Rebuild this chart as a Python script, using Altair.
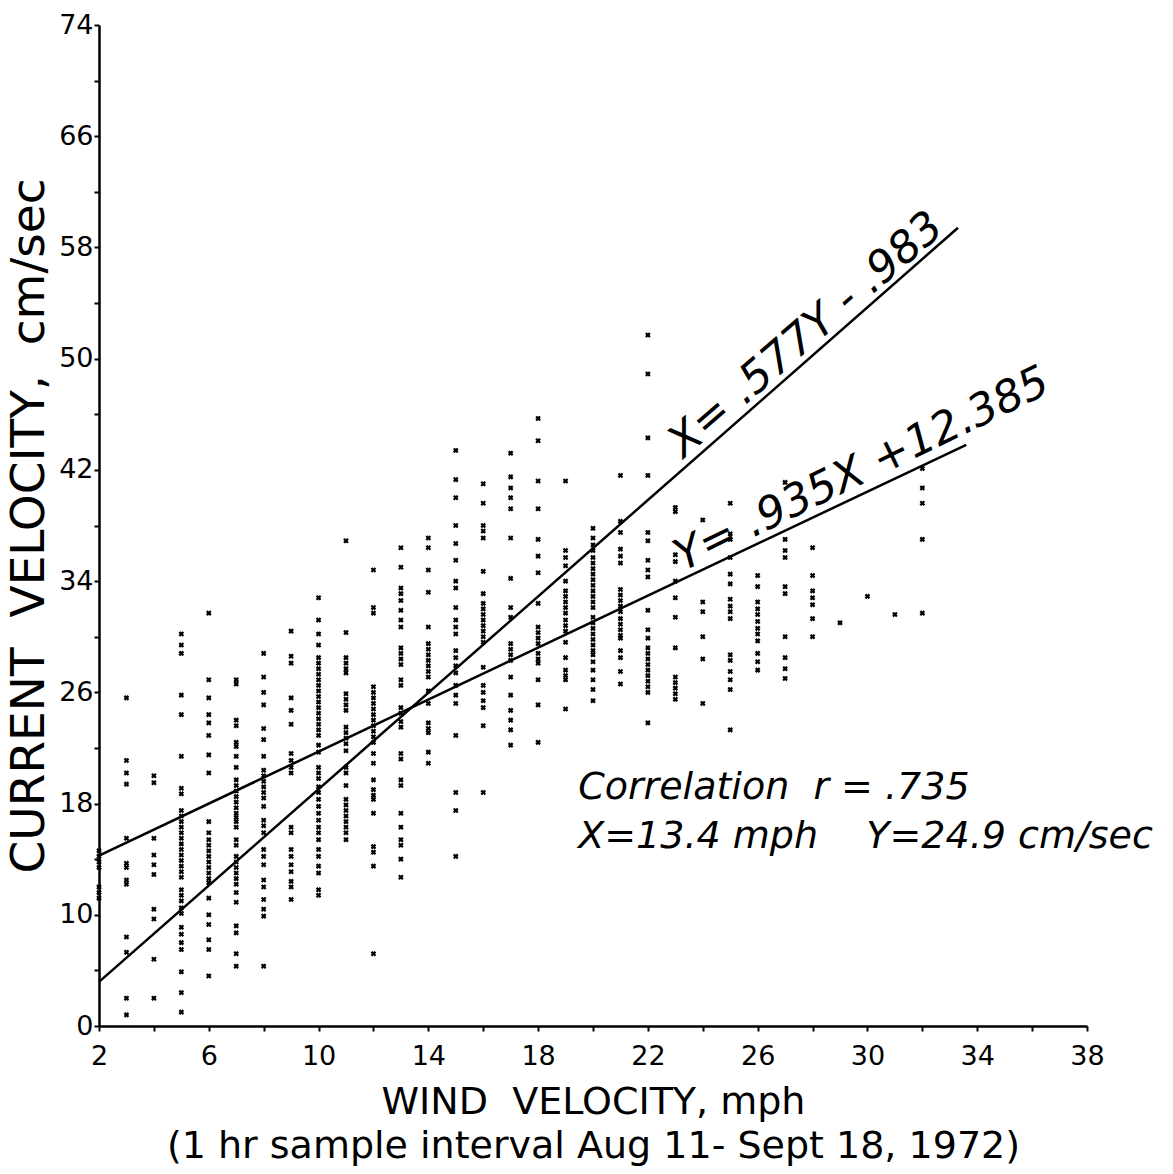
import altair as alt
import pandas as pd

# Axis tick positions (wind in mph, current in cm/sec)
wind_ticks = list(range(2, 39, 2))
current_ticks = list(range(2, 75, 4))

# Hourly current speeds observed at each whole-mph wind speed
cur_02 = [11.2, 11.6, 12.0, 13.4, 13.8, 14.2, 14.6]
cur_03 = [25.6, 21.1, 20.2, 19.4, 15.5, 13.7, 13.4, 12.5, 12.2, 8.4, 7.3, 4.0, 2.8]
cur_04 = [20.0, 19.5, 15.5, 14.3, 13.6, 12.9, 10.4, 9.7, 6.8, 4.0]
cur_05 = [30.2, 29.4, 28.8, 25.8, 24.4, 21.4, 19.1, 18.7, 17.5, 17.1, 16.7, 16.3, 15.9,
          15.5, 15.1, 14.7, 14.3, 13.9, 13.5, 13.1, 12.7, 11.8, 11.4, 11.0, 10.5, 10.1,
          9.1, 8.6, 8.0, 7.5, 5.9, 4.4, 3.0]
cur_06 = [31.7, 26.9, 25.6, 24.4, 23.8, 22.9, 21.5, 20.2, 16.7, 15.9, 15.4, 15.0, 14.6,
          14.2, 13.8, 13.4, 13.0, 12.6, 12.3, 11.2, 10.0, 9.3, 8.2, 7.5, 5.6]
cur_07 = [26.9, 26.6, 24.0, 23.6, 22.4, 22.1, 21.4, 20.6, 19.7, 19.3, 18.9, 18.5, 18.1,
          17.7, 17.3, 17.0, 16.7, 16.3, 15.4, 15.0, 14.2, 13.8, 13.4, 13.0, 12.6, 12.2,
          11.6, 10.9, 9.2, 8.7, 7.2, 6.3]
cur_08 = [28.8, 27.1, 26.0, 25.1, 23.4, 22.6, 21.4, 20.4, 20.0, 19.6, 19.2, 18.8, 18.4,
          17.8, 16.8, 16.4, 15.9, 14.7, 14.2, 13.6, 12.5, 12.0, 11.1, 10.4, 9.9, 6.3]
cur_09 = [30.4, 28.6, 28.1, 25.6, 24.7, 23.7, 21.6, 21.1, 20.6, 20.2, 16.3, 15.9, 14.7,
          14.2, 13.6, 13.1, 12.4, 12.0, 11.1]
cur_10 = [32.8, 31.2, 30.2, 29.4, 28.5, 28.1, 27.7, 27.3, 26.9, 26.5, 26.1, 25.7, 25.3,
          24.9, 24.5, 24.1, 23.7, 23.3, 22.9, 22.2, 21.7, 20.6, 20.2, 19.8, 19.2, 18.8,
          18.3, 17.8, 17.3, 16.8, 16.3, 15.9, 15.4, 14.7, 14.2, 13.5, 13.0, 11.8, 11.4]
cur_11 = [36.9, 30.3, 28.5, 28.1, 27.7, 27.4, 25.9, 25.5, 25.1, 24.7, 23.5, 23.1, 22.7,
          22.3, 21.8, 20.6, 20.2, 19.3, 18.3, 17.9, 17.5, 17.1, 16.7, 16.3, 15.9, 15.4]
cur_12 = [34.8, 32.1, 31.7, 26.4, 26.0, 25.6, 25.2, 24.8, 24.4, 24.0, 23.6, 23.2, 22.8,
          22.4, 21.6, 20.9, 19.7, 19.0, 18.6, 18.3, 17.3, 14.9, 14.5, 13.5, 7.2]
cur_13 = [36.4, 35.0, 33.5, 33.1, 32.6, 31.9, 31.2, 30.7, 29.2, 28.8, 28.4, 28.0, 26.9,
          26.5, 24.9, 24.5, 23.9, 23.5, 21.6, 21.2, 19.7, 19.3, 17.3, 16.3, 15.4, 15.0,
          14.0, 12.7]
cur_14 = [37.1, 36.4, 34.8, 33.2, 30.7, 29.5, 29.1, 28.7, 28.3, 27.9, 27.5, 27.1, 26.1,
          25.2, 23.8, 23.4, 23.1, 21.7, 20.9]
cur_15 = [43.4, 41.3, 40.0, 38.0, 36.7, 35.5, 34.0, 33.5, 32.1, 31.2, 30.7, 30.2, 29.0,
          28.5, 27.9, 27.4, 26.5, 25.8, 25.2, 22.9, 18.8, 17.5, 14.2]
cur_16 = [41.0, 39.6, 38.0, 37.6, 37.1, 34.7, 33.1, 32.4, 32.0, 31.6, 31.2, 30.8, 30.4,
          30.0, 29.6, 27.8, 26.5, 26.0, 25.4, 24.9, 23.6, 18.8]
cur_17 = [43.2, 41.5, 40.7, 40.0, 39.2, 37.1, 34.2, 32.1, 31.4, 29.5, 29.1, 28.7, 28.3,
          27.1, 25.8, 24.7, 24.0, 23.3, 22.2]
cur_18 = [45.7, 44.1, 41.2, 39.2, 37.0, 35.8, 34.6, 32.4, 30.7, 30.3, 29.9, 29.5, 28.8,
          28.4, 28.1, 26.9, 25.1, 22.4]
cur_19 = [41.2, 36.2, 35.7, 35.1, 34.0, 33.3, 32.9, 32.5, 32.1, 31.7, 31.2, 30.8, 30.4,
          29.6, 28.5, 27.6, 27.2, 26.9, 24.8]
cur_20 = [37.8, 37.1, 36.6, 36.2, 35.7, 35.3, 34.9, 34.5, 34.1, 33.7, 33.3, 32.9, 32.5,
          32.1, 31.4, 31.0, 30.6, 30.2, 29.8, 29.4, 29.0, 28.7, 28.2, 27.6, 26.9, 26.2, 25.4]
cur_21 = [41.6, 38.3, 37.5, 36.3, 35.8, 35.3, 33.4, 33.0, 32.6, 32.2, 31.8, 31.3, 30.9,
          30.5, 30.1, 29.9, 29.0, 28.5, 27.5, 26.6]
cur_22 = [51.7, 48.9, 44.3, 41.6, 37.5, 36.9, 35.5, 34.8, 34.3, 31.9, 30.5, 29.9, 29.2,
          28.8, 28.4, 28.0, 27.6, 27.2, 26.8, 26.4, 26.0, 23.8]
cur_23 = [39.3, 39.0, 35.9, 35.4, 34.0, 32.8, 31.4, 29.2, 27.1, 26.7, 26.3, 25.9, 25.5]
cur_24 = [38.4, 32.5, 31.8, 30.0, 28.4, 25.2]
cur_25 = [39.6, 37.4, 37.0, 35.7, 34.5, 33.8, 32.7, 32.2, 31.8, 31.3, 28.7, 28.3, 27.5,
          26.9, 26.2, 23.3]
cur_26 = [34.4, 33.6, 32.5, 32.0, 31.6, 31.1, 30.6, 30.2, 29.7, 28.8, 28.2, 27.6]
cur_27 = [41.1, 37.0, 36.2, 35.7, 33.6, 33.1, 30.0, 28.5, 27.7, 27.0]
cur_28 = [36.4, 34.4, 33.3, 32.8, 32.3, 31.3, 30.0]
cur_29 = [31.0]
cur_30 = [32.9]
cur_31 = [31.6]
cur_32 = [42.1, 40.7, 39.6, 37.0, 31.7]

by_wind = [
    (2, cur_02), (3, cur_03), (4, cur_04), (5, cur_05), (6, cur_06), (7, cur_07),
    (8, cur_08), (9, cur_09), (10, cur_10), (11, cur_11), (12, cur_12), (13, cur_13),
    (14, cur_14), (15, cur_15), (16, cur_16), (17, cur_17), (18, cur_18), (19, cur_19),
    (20, cur_20), (21, cur_21), (22, cur_22), (23, cur_23), (24, cur_24), (25, cur_25),
    (26, cur_26), (27, cur_27), (28, cur_28), (29, cur_29), (30, cur_30), (31, cur_31),
    (32, cur_32),
]
points = pd.DataFrame(
    [{"wind": w, "current": c} for w, vals in by_wind for c in vals]
)

# Least-squares fits: Y on X and X on Y
y_on_x = (0.935, 12.385)   # Y = .935X + 12.385
x_on_y = (0.577, -0.983)   # X = .577Y - .983
y_on_x_span = [2, 33.6]
x_on_y_span = [2, 33.3]

fit_rows = []
for w in y_on_x_span:
    fit_rows.append({"fit": "y_on_x", "wind": w, "current": y_on_x[0] * w + y_on_x[1]})
for w in x_on_y_span:
    fit_rows.append({"fit": "x_on_y", "wind": w, "current": (w - x_on_y[1]) / x_on_y[0]})
fits = pd.DataFrame(fit_rows)

NB = "\u00a0"  # keeps wide gaps from collapsing in SVG text

eq_x = pd.DataFrame([{"wind": 27.77, "current": 51.7, "txt": "X=" + NB + ".577Y" + NB + "-" + NB + ".983"}])
eq_y = pd.DataFrame([{"wind": 29.8, "current": 42.0, "txt": "Y=" + NB + ".935X" + NB + "+12.385"}])
stats = pd.DataFrame([
    {"wind": 19.46, "current": 18.3, "txt": "Correlation" + NB * 2 + "r" + NB + "=" + NB + ".735"},
    {"wind": 19.46, "current": 14.8, "txt": "X=13.4" + NB + "mph" + NB * 4 + "Y=24.9" + NB + "cm/sec"},
])

FONT = "DejaVu Sans"

x_enc = alt.X(
    "wind:Q",
    scale=alt.Scale(domain=[2, 38], nice=False, zero=False),
    axis=alt.Axis(
        values=wind_ticks,
        labelExpr="(datum.value - 2) % 4 == 0 ? datum.label : ''",
        title=["WIND" + NB * 2 + "VELOCITY," + NB + "mph",
               "(1 hr sample interval Aug 11- Sept 18, 1972)"],
        titleFont=FONT, titleFontSize=38, titleFontWeight="normal", titleColor="black",
        titleLineHeight=44, titlePadding=14,
        labelFont=FONT, labelFontSize=27, labelColor="black", labelPadding=12,
        labelFlush=False, labelOverlap=False,
        tickSize=5, tickWidth=2, tickColor="black",
        domainWidth=2.5, domainColor="black", grid=False,
    ),
)
y_enc = alt.Y(
    "current:Q",
    scale=alt.Scale(domain=[2, 74], nice=False, zero=False),
    axis=alt.Axis(
        values=current_ticks,
        labelExpr="datum.value == 2 ? '0' : ((datum.value - 2) % 8 == 0 ? datum.label : '')",
        title="CURRENT" + NB * 2 + "VELOCITY," + NB * 2 + "cm/sec",
        titleFont=FONT, titleFontSize=47, titleFontWeight="normal", titleColor="black",
        titlePadding=5,
        labelFont=FONT, labelFontSize=27, labelColor="black", labelPadding=1,
        labelFlush=False, labelOverlap=False,
        tickSize=5, tickWidth=2, tickColor="black",
        domainWidth=2.5, domainColor="black", grid=False,
    ),
)

dots = alt.Chart(points).mark_point(
    shape="cross", angle=45, filled=True, size=32, color="black", opacity=1
).encode(x=x_enc, y=y_enc)

lines = alt.Chart(fits).mark_line(color="black", strokeWidth=2.5).encode(
    x=x_enc, y=y_enc, detail="fit:N"
)

eq_x_text = alt.Chart(eq_x).mark_text(
    font=FONT, fontSize=44, fontStyle="italic", angle=319, align="center",
    baseline="middle", color="black"
).encode(x=x_enc, y=y_enc, text="txt:N")

eq_y_text = alt.Chart(eq_y).mark_text(
    font=FONT, fontSize=44, fontStyle="italic", angle=334, align="center",
    baseline="middle", color="black"
).encode(x=x_enc, y=y_enc, text="txt:N")

stats_text = alt.Chart(stats).mark_text(
    font=FONT, fontSize=38, fontStyle="italic", align="left",
    baseline="alphabetic", color="black"
).encode(x=x_enc, y=y_enc, text="txt:N")

chart = (
    alt.layer(dots, lines, eq_x_text, eq_y_text, stats_text)
    .properties(
        width=988,
        height=1001,
        autosize=alt.AutoSizeParams(type="none"),
        padding={"left": 99, "top": 25, "right": 86, "bottom": 148},
        background="white",
    )
    .configure_view(strokeWidth=0)
)

chart.save("out.html", embed_options={"renderer": "svg", "actions": False})
